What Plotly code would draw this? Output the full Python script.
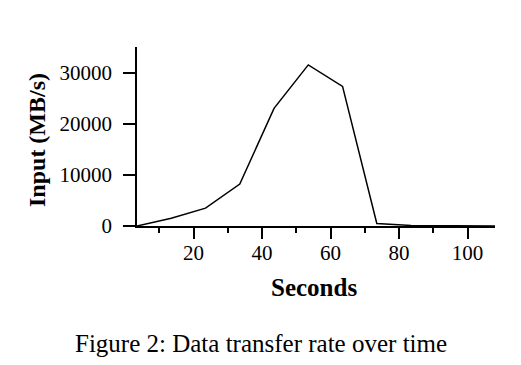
import plotly.graph_objects as go

seconds = [3.5, 13.5, 23.5, 33.5, 43.5, 53.5, 63.5, 73.5, 83.5, 93.5, 103.5, 108]
input_mbs = [0, 1500, 3500, 8200, 23000, 31500, 27300, 500, 100, 0, 0, 0]
x_ticks = [20, 40, 60, 80, 100]
x_minor = [10, 30, 50, 70, 90]
y_ticks = [0, 10000, 20000, 30000]
y_labels = ["0", "10000", "20000", "30000"]

# the page has an 8px body margin, so the figure is offset by 8px
OFF = 8
W, H = 521 - OFF, 365 - OFF
L, R, T, B = 137 - OFF, 26, 47 - OFF, 139
pw, ph = W - L - R, H - T - B

def px(x):
    return (x - OFF - L) / pw

def py(y):
    return (H - B - (y - OFF)) / ph

serif = "Liberation Serif, Times New Roman, serif"

fig = go.Figure(go.Scatter(x=seconds, y=input_mbs, mode="lines",
                           line=dict(color="black", width=1.5), showlegend=False))
fig.update_layout(
    width=W, height=H, margin=dict(l=L, r=R, t=T, b=B),
    paper_bgcolor="white", plot_bgcolor="white",
    font=dict(family=serif, color="black", size=21),
    xaxis=dict(range=[3.5, 108], tickvals=x_ticks, ticks="outside", ticklen=11,
               tickwidth=1.5, tickcolor="black", showline=True, linecolor="black",
               linewidth=1.5, showgrid=False, zeroline=False,
               tickfont=dict(size=21, family=serif), ticklabelstandoff=-4,
               minor=dict(tickvals=x_minor, ticks="outside", ticklen=5,
                          tickwidth=1.5, tickcolor="black", showgrid=False)),
    yaxis=dict(range=[0, 35000], tickvals=y_ticks, ticktext=y_labels, ticks="outside",
               ticklen=12, tickwidth=1.5, tickcolor="black", showline=True,
               linecolor="black", linewidth=1.5, showgrid=False, zeroline=False,
               tickfont=dict(size=21, family=serif), ticklabelstandoff=7),
    annotations=[
        dict(text="<b>Seconds</b>", x=px(314), y=py(287), xref="paper", yref="paper",
             showarrow=False, xanchor="center", yanchor="middle",
             font=dict(size=25, family=serif)),
        dict(text="<b>Input (MB/s)</b>", x=px(37), y=py(140), xref="paper", yref="paper",
             showarrow=False, xanchor="center", yanchor="middle", textangle=-90,
             font=dict(size=24, family=serif)),
        dict(text="Figure 2: Data transfer rate over time", x=px(261), y=py(343),
             xref="paper", yref="paper", showarrow=False, xanchor="center",
             yanchor="middle", font=dict(size=25, family=serif)),
    ],
)
fig.write_html("out.html")
